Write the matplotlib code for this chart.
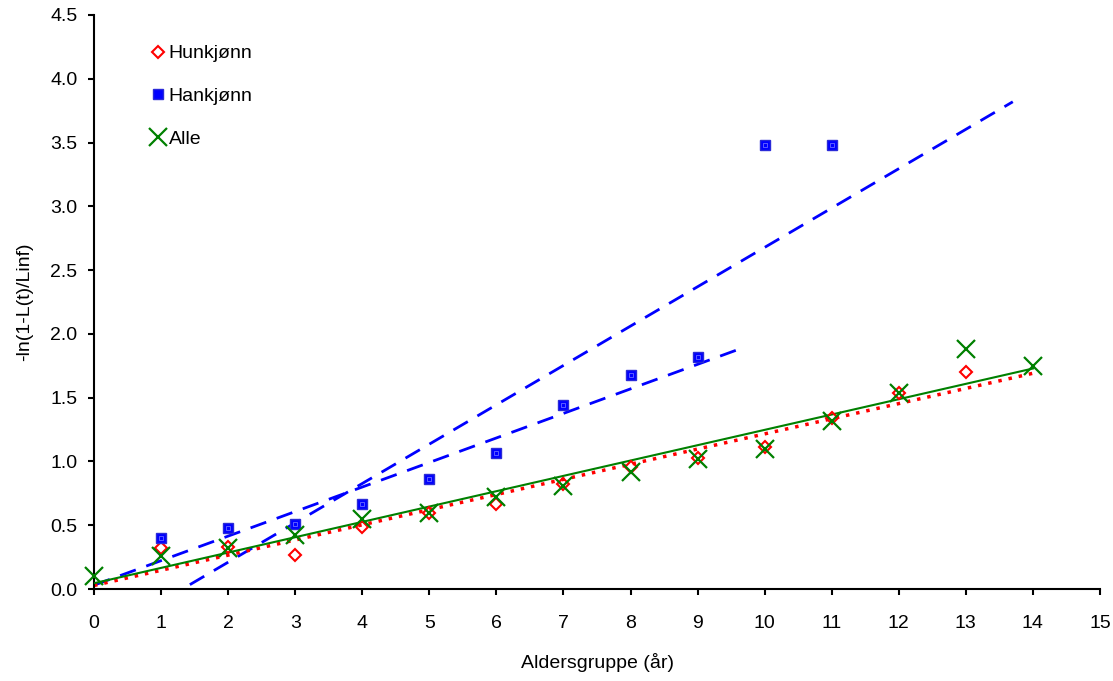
import matplotlib
matplotlib.use("Agg")
import matplotlib.pyplot as plt
import numpy as np

plt.rcParams['font.family'] = ['Liberation Sans', 'DejaVu Sans']

# Data per age group
alder_hun = [1, 2, 3, 4, 5, 6, 7, 8, 9, 10, 11, 12, 13]
hunkjonn = [0.32, 0.33, 0.27, 0.49, 0.60, 0.67, 0.82, 0.96, 1.03, 1.11, 1.34, 1.54, 1.70]

alder_han = [1, 2, 3, 4, 5, 6, 7, 8, 9, 10, 11]
hankjonn = [0.40, 0.48, 0.51, 0.67, 0.86, 1.07, 1.44, 1.68, 1.82, 3.48, 3.48]

alder_alle = [0, 1, 2, 3, 4, 5, 6, 7, 8, 9, 10, 11, 12, 13, 14]
alle = [0.10, 0.26, 0.32, 0.42, 0.55, 0.60, 0.72, 0.81, 0.92, 1.02, 1.10, 1.32, 1.54, 1.88, 1.75]

xticks = list(range(0, 16))
yticks = [0.0, 0.5, 1.0, 1.5, 2.0, 2.5, 3.0, 3.5, 4.0, 4.5]

FS = 14

fig = plt.figure(figsize=(11.13, 6.81), dpi=100)
ax = fig.add_axes([0.0845, 0.135, 0.9038, 0.843])

# linear trend lines
def trend(x, y, x0, x1):
    k, m = np.polyfit(x, y, 1)
    xs = np.linspace(x0, x1, 50)
    return xs, k * xs + m

xs, ys = trend(alder_han, hankjonn, 0, 13.7)
ax.plot(xs, ys, color='#0000FF', lw=2.0, ls=(0, (6, 4)), zorder=2)
xs, ys = trend(alder_han[:9], hankjonn[:9], 0, 9.6)
ax.plot(xs, ys, color='#0000FF', lw=2.0, ls=(0, (6, 4)), zorder=2)
xs, ys = trend(alder_hun, hunkjonn, 0, 14)
ax.plot(xs, ys, color='#FF0000', lw=2.5, ls=(0, (1, 2)), zorder=2)
xs, ys = trend(alder_alle, alle, 0, 14)
ax.plot(xs, ys, color='#008000', lw=1.5, zorder=3)

# markers
ax.plot(alder_hun, hunkjonn, 'D', ms=6.5, mfc='none', mec='#FF0000', mew=1.5,
        ls='none', label='Hunkjønn', zorder=4, clip_on=False)
ax.plot(alder_han, hankjonn, 's', ms=7.5, mfc='#0000FF', mec='#2a2ad8', mew=1.0,
        ls='none', label='Hankjønn', zorder=4, clip_on=False)
ax.plot(alder_han, hankjonn, 's', ms=3, mfc='none', mec='#8080ff', mew=0.5,
        ls='none', zorder=5)
ax.plot(alder_alle, alle, 'x', ms=13, mec='#008000', mew=1.6,
        ls='none', label='Alle', zorder=4, clip_on=False)

ax.set_xlim(0, 15)
ax.set_ylim(0, 4.5)
ax.set_xticks(xticks)
ax.set_yticks(yticks)
ax.set_yticklabels(['%.1f' % v for v in yticks])
ax.tick_params(direction='out', length=4, width=1.5, labelsize=FS)
ax.tick_params(axis='x', pad=15)
ax.tick_params(axis='y', pad=8)
for s in ['top', 'right']:
    ax.spines[s].set_visible(False)
for s in ['left', 'bottom']:
    ax.spines[s].set_linewidth(1.5)
    ax.spines[s].set_clip_on(False)

ax.set_xlabel('Aldersgruppe (år)', fontsize=FS, labelpad=15)
ax.set_ylabel('-ln(1-L(t)/Linf)', fontsize=FS, labelpad=12)

ax.legend(loc='upper left', bbox_to_anchor=(0.046, 0.965), frameon=False,
          fontsize=FS, handlelength=0.8, handletextpad=0.15,
          labelspacing=1.3, borderpad=0)

fig.savefig('out.png', dpi=100)
